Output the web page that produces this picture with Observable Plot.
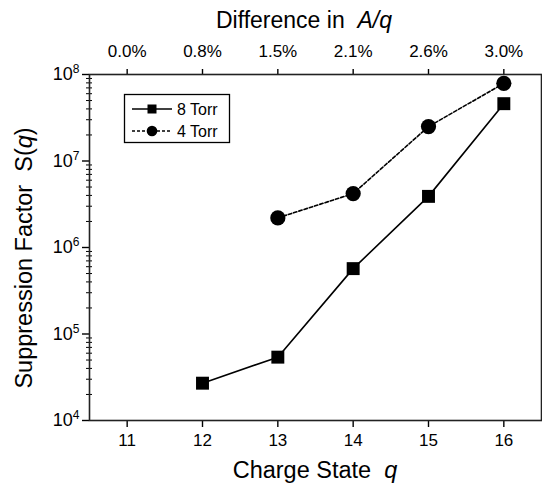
<!DOCTYPE html>
<html><head>
<meta charset="utf-8">
<script src="https://cdn.jsdelivr.net/npm/d3@7"></script>
<script src="https://cdn.jsdelivr.net/npm/@observablehq/plot@0.6"></script>
<style>body{margin:0;background:#fff} svg{display:block}</style>
</head><body><div id="chart"></div>
<script>
// Data
const charge8 = [12, 13, 14, 15, 16];
const torr8 = [2.7e4, 5.4e4, 5.7e5, 3.9e6, 4.6e7];
const charge4 = [13, 14, 15, 16];
const torr4 = [2.2e6, 4.2e6, 2.5e7, 7.9e7];
const xTicks = [11, 12, 13, 14, 15, 16];
const topLabels = ["0.0%", "0.8%", "1.5%", "2.1%", "2.6%", "3.0%"];
const yMajor = [1e4, 1e5, 1e6, 1e7, 1e8];
const seriesNames = ["8 Torr", "4 Torr"];

const yMinor = [];
for (let e = 4; e < 8; e++) for (let m = 2; m <= 9; m++) yMinor.push(m * Math.pow(10, e));

const data8 = charge8.map((q, i) => ({q, s: torr8[i]}));
const data4 = charge4.map((q, i) => ({q, s: torr4[i]}));

const font = "'Liberation Sans', Arial, Helvetica, sans-serif";

const plot = Plot.plot({
  width: 542, height: 489,
  marginLeft: 89, marginRight: 1, marginTop: 74, marginBottom: 69,
  style: {fontFamily: font, background: "#fff", color: "#000"},
  x: {domain: [10.5, 16.5]},
  y: {type: "log", domain: [1e4, 1e8]},
  marks: [
    Plot.axisX(xTicks, {anchor: "bottom", tickSize: 7, tickPadding: 6, fontSize: 17, label: null, strokeWidth: 1.4, tickFormat: d => String(d)}),
    Plot.axisX(xTicks, {anchor: "top", tickSize: 6, tickPadding: 12, fontSize: 17, label: null, strokeWidth: 1.4, tickFormat: d => topLabels[xTicks.indexOf(d)]}),
    Plot.axisY(yMajor, {anchor: "left", tickSize: 7, tickPadding: 3, fontSize: 18, label: null, strokeWidth: 1.4, tickFormat: d => "10^" + Math.round(Math.log10(d))}),
    Plot.axisY(yMinor, {anchor: "left", tickSize: 6, dx: 3, label: null, strokeWidth: 1, tickFormat: () => ""}),
    Plot.frame({stroke: "#222", strokeWidth: 1.6}),
    Plot.line(data4, {x: "q", y: "s", stroke: "#000", strokeWidth: 1.6, strokeDasharray: "3.5,2"}),
    Plot.dot(data4, {x: "q", y: "s", r: 7.6, fill: "#000", stroke: "none", symbol: "circle"}),
    Plot.line(data8, {x: "q", y: "s", stroke: "#000", strokeWidth: 1.6}),
    Plot.dot(data8, {x: "q", y: "s", r: 7.3, fill: "#000", stroke: "none", symbol: "square"})
  ]
});

const svg = d3.select(plot);

// superscript exponents on y tick labels
svg.selectAll("text").each(function() {
  const t = this.textContent;
  if (t.startsWith("10^")) {
    const sel = d3.select(this);
    sel.text(null);
    sel.append("tspan").text("10");
    sel.append("tspan").attr("dy", "-0.6em").attr("font-size", 12).text(t.slice(3));
  }
});

// axis titles
const topTitle = svg.append("text").attr("x", 304).attr("y", 28).attr("text-anchor", "middle")
  .attr("font-size", 23).attr("font-family", font);
topTitle.append("tspan").text("Difference in\u00a0\u00a0");
topTitle.append("tspan").attr("font-style", "italic").text("A/q");

const botTitle = svg.append("text").attr("x", 315).attr("y", 478).attr("text-anchor", "middle")
  .attr("font-size", 23.5).attr("font-family", font);
botTitle.append("tspan").text("Charge State\u00a0\u00a0");
botTitle.append("tspan").attr("font-style", "italic").text("q");

const yTitle = svg.append("text").attr("transform", "translate(32,258) rotate(-90)").attr("text-anchor", "middle")
  .attr("font-size", 23.5).attr("font-family", font);
yTitle.append("tspan").text("Suppression Factor\u00a0\u00a0S(");
yTitle.append("tspan").attr("font-style", "italic").text("q");
yTitle.append("tspan").text(")");

// legend
const lg = svg.append("g").attr("text-anchor", "start");
lg.append("rect").attr("x", 124.5).attr("y", 94.5).attr("width", 105).attr("height", 48)
  .attr("fill", "#fff").attr("stroke", "#000").attr("stroke-width", 1.3);
const rows = [{y: 109, dash: null, sym: "square"}, {y: 131, dash: "3,2", sym: "circle"}];
rows.forEach((r, i) => {
  lg.append("line").attr("x1", 132).attr("x2", 172).attr("y1", r.y).attr("y2", r.y)
    .attr("stroke", "#000").attr("stroke-width", 1.4).attr("stroke-dasharray", r.dash);
  if (r.sym === "square") lg.append("rect").attr("x", 147.5).attr("y", r.y - 4.5).attr("width", 9).attr("height", 9).attr("fill", "#000");
  else lg.append("circle").attr("cx", 152).attr("cy", r.y).attr("r", 5.3).attr("fill", "#000");
  lg.append("text").attr("x", 177).attr("y", r.y + 5.5).attr("text-anchor", "start")
    .attr("font-size", 16).attr("font-family", font).text(seriesNames[i]);
});

document.getElementById("chart").appendChild(plot);
</script>
</body></html>
